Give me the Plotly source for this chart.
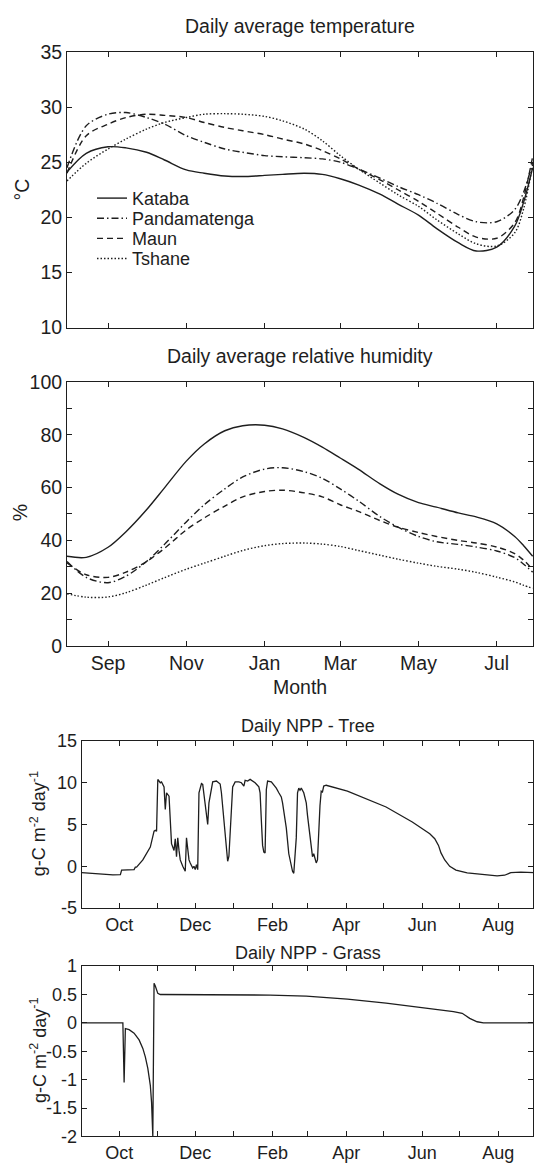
import plotly.graph_objects as go
import pandas as pd

# ---------------- data ----------------
clim_dates = ["2001-07-31", "2001-08-15", "2001-09-01", "2001-09-15", "2001-10-01", "2001-10-15",
              "2001-11-01", "2001-11-15", "2001-12-01", "2001-12-15", "2002-01-01", "2002-01-15",
              "2002-02-01", "2002-02-15", "2002-03-01", "2002-03-15", "2002-04-01", "2002-04-15",
              "2002-05-01", "2002-05-15", "2002-06-01", "2002-06-15", "2002-07-01", "2002-07-15",
              "2002-07-22", "2002-07-29"]
stations = ["Kataba", "Pandamatenga", "Maun", "Tshane"]

temp_kataba = [24.1, 25.8, 26.4, 26.3, 25.9, 25.2, 24.3, 24.0, 23.75, 23.7, 23.8, 23.9, 24.0, 23.9,
               23.5, 22.95, 22.1, 21.2, 20.2, 19.0, 17.7, 16.95, 17.3, 19.2, 21.4, 24.5]
temp_pandamatenga = [24.5, 28.3, 29.35, 29.5, 29.05, 28.45, 27.4, 26.8, 26.2, 25.9, 25.6, 25.5, 25.4,
                     25.3, 25.0, 24.4, 23.55, 22.8, 22.05, 21.3, 20.25, 19.6, 19.6, 20.7, 22.3, 25.0]
temp_maun = [24.0, 27.4, 28.45, 29.05, 29.35, 29.25, 29.05, 28.6, 28.15, 27.85, 27.5, 27.1, 26.65,
             26.05, 25.3, 24.4, 23.4, 22.5, 21.45, 20.4, 19.1, 18.2, 18.1, 19.5, 21.8, 25.5]
temp_tshane = [23.3, 24.9, 26.2, 27.1, 28.0, 28.6, 29.05, 29.35, 29.4, 29.35, 29.15, 28.75, 28.0,
               26.95, 25.6, 24.4, 23.1, 22.05, 21.0, 19.8, 18.5, 17.6, 17.4, 18.6, 20.8, 24.8]

hum_kataba = [34.0, 33.6, 37.4, 43.3, 51.6, 59.9, 70.0, 76.5, 81.5, 83.4, 83.6, 82.2, 78.9, 75.3,
              71.2, 67.0, 61.4, 57.5, 54.3, 52.6, 50.4, 48.9, 46.3, 41.5, 38.0, 34.0]
hum_pandamatenga = [32.0, 26.0, 24.0, 26.5, 32.0, 38.5, 47.0, 53.5, 59.5, 64.0, 67.0, 67.5, 66.0,
                    63.5, 59.5, 55.0, 49.0, 45.0, 41.5, 39.5, 38.5, 37.5, 36.0, 33.5, 31.0, 28.0]
hum_maun = [31.5, 27.0, 26.0, 28.0, 32.0, 37.0, 44.0, 48.5, 53.0, 56.5, 58.5, 59.0, 58.0, 56.5,
            53.5, 51.0, 47.5, 45.0, 43.0, 41.5, 40.0, 39.0, 37.5, 35.0, 32.5, 29.0]
hum_tshane = [19.8, 18.5, 18.6, 20.2, 23.1, 25.9, 29.1, 31.4, 34.0, 36.2, 38.0, 38.8, 39.0, 38.6,
              37.7, 36.2, 34.4, 32.9, 31.4, 30.2, 29.1, 27.9, 26.1, 24.3, 23.0, 21.9]

npp_start = "2001-09-01"
tree_day = [0, 12, 25, 31, 32, 42, 43, 44, 49, 55,
            57, 58, 59, 60, 61, 63, 64, 66, 67, 68,
            70, 71, 72, 74, 75, 76, 77, 78, 79, 81,
            82, 83, 84, 85, 86, 87, 89, 90, 91, 92,
            93, 94, 96, 97, 98, 100, 101, 102, 104, 105,
            108, 111, 112, 114, 116, 117, 118, 119, 120, 121,
            123, 126, 128, 130, 131, 133, 135, 139, 142, 143,
            144, 145, 146, 147, 148, 149, 152, 154, 156, 158,
            160, 161, 164, 166, 168, 169, 170, 172, 173, 174,
            175, 176, 178, 180, 181, 183, 185, 186, 187, 188,
            189, 190, 191, 192, 193, 194, 196, 213, 244, 265,
            275, 279, 283, 286, 288, 291, 295, 300, 309, 322,
            333, 339, 344, 352, 364]
tree_npp = [-0.76, -0.9, -1.03, -1.0, -0.45, -0.4, -0.1, -0.1, 0.76, 2.3,
            3.4, 4.2, 4.3, 4.2, 10.4, 10.0, 10.1, 9.5, 6.8, 8.8,
            8.4, 6.1, 2.7, 1.9, 3.3, 1.15, 3.4, 1.9, 0.76, 0.0,
            -0.4, -0.6, 3.4, 2.3, 0.76, 0.4, -0.2, 0.0, -0.4, 0.2,
            -0.4, 8.8, 9.9, 9.8, 8.4, 6.1, 5.0, 7.6, 9.5, 10.1,
            10.2, 9.85, 8.8, 5.7, 2.3, 0.6, 1.2, 4.2, 6.0, 9.5,
            10.1, 10.1, 10.0, 9.6, 10.3, 10.2, 10.4, 10.0, 9.5, 8.8,
            5.5, 2.5, 1.7, 1.6, 9.2, 10.2, 10.1, 9.7, 9.35, 8.8,
            8.3, 7.6, 4.6, 1.5, 0.0, -0.6, -0.84, 3.4, 8.8, 9.35,
            9.1, 9.35, 8.8, 7.6, 6.1, 3.4, 1.15, 1.5, 0.76, 0.4,
            0.76, 5.0, 7.25, 9.0, 8.9, 9.6, 9.7, 9.0, 7.1, 5.3,
            4.3, 3.9, 3.3, 2.5, 1.6, 0.76, 0.0, -0.45, -0.8, -1.03,
            -1.15, -1.07, -0.76, -0.7, -0.76]

grass_day = [0, 33, 34, 35, 38, 42, 46, 49, 51, 53, 55, 56, 57, 58, 59, 61, 63, 90, 151, 180,
             213, 244, 275, 298, 305, 311, 317, 322, 364]
grass_npp = [0, 0, -1.05, -0.1, -0.12, -0.18, -0.3, -0.45, -0.6, -0.8, -1.1, -1.4, -2.0, 0.7, 0.65,
             0.52, 0.5, 0.5, 0.49, 0.47, 0.42, 0.35, 0.27, 0.2, 0.17, 0.08, 0.02, 0.0, 0.0]

tree_ticks = [-5, 0, 5, 10, 15]
tree_ticktext = ["-5", "0", "5", "10", "15"]
grass_ticks = [-2, -1.5, -1, -0.5, 0, 0.5, 1]
grass_ticktext = ["-2", "-1.5", "-1", "-0.5", "0", "0.5", "1"]

# ---------------- figure ----------------
W, H = 534, 1167
FONT = "Liberation Sans, Arial, sans-serif"
INK = "#1e1e1e"
FS_TOP = 19.5   # text size of the two climate panels
FS_NPP = 18     # text size of the two NPP panels
FS_LEG = 18


def py(px):
    return 1 - px / H


line_styles = {
    "Kataba": "solid",
    "Pandamatenga": "7px,3px,1.5px,3px",
    "Maun": "6px,4px",
    "Tshane": "1.5px,2px",
}
temps = [temp_kataba, temp_pandamatenga, temp_maun, temp_tshane]
hums = [hum_kataba, hum_pandamatenga, hum_maun, hum_tshane]
legends = ["legend", "legend2", "legend3", "legend4"]

fig = go.Figure()
for name, t, h, lg in zip(stations, temps, hums, legends):
    ln = dict(color=INK, width=1.4, dash=line_styles[name], shape="spline", smoothing=0.9)
    fig.add_trace(go.Scatter(x=pd.to_datetime(clim_dates), y=t, mode="lines", name=name, line=ln,
                             xaxis="x", yaxis="y", legend=lg))
    fig.add_trace(go.Scatter(x=pd.to_datetime(clim_dates), y=h, mode="lines", name=name, line=ln,
                             xaxis="x2", yaxis="y2", showlegend=False))

t0 = pd.Timestamp(npp_start)
fig.add_trace(go.Scatter(x=[t0 + pd.Timedelta(days=d) for d in tree_day], y=tree_npp, mode="lines",
                         line=dict(color=INK, width=1.3), xaxis="x3", yaxis="y3", showlegend=False))
fig.add_trace(go.Scatter(x=[t0 + pd.Timedelta(days=d) for d in grass_day], y=grass_npp, mode="lines",
                         line=dict(color=INK, width=1.3), xaxis="x4", yaxis="y4", showlegend=False))


def axis_base(fs):
    return dict(showline=True, linecolor=INK, linewidth=1, mirror="ticks", ticks="inside", ticklen=5,
                tickcolor=INK, tickwidth=1, showgrid=False, zeroline=False,
                tickfont=dict(family=FONT, size=fs, color=INK))


top = axis_base(FS_TOP)
npp = axis_base(FS_NPP)

dom_clim = [67 / W, 533.3 / W]
dom_npp = [81.7 / W, 533.3 / W]
clim_range = ["2001-07-31", "2002-07-29 12:00"]
npp_range = ["2001-09-01", "2002-08-29"]

layout_axes = dict(
    xaxis=dict(top, domain=dom_clim, anchor="y", type="date", range=clim_range, dtick="M2",
               tick0="2001-09-01", showticklabels=False),
    yaxis=dict(top, domain=[py(322.7), py(41.7)], anchor="x", range=[10, 35], dtick=5),
    xaxis2=dict(top, domain=dom_clim, anchor="y2", type="date", range=clim_range, dtick="M2",
                tick0="2001-09-01", tickformat="%b"),
    yaxis2=dict(top, domain=[py(647.3), py(378)], anchor="x2", range=[0, 100], dtick=20,
                minor=dict(dtick=10, ticks="inside", ticklen=5, tickcolor=INK)),
    xaxis3=dict(npp, domain=dom_npp, anchor="y3", type="date", range=npp_range, dtick="M2",
                tick0="2001-10-01", tickformat="%b",
                minor=dict(dtick="M1", tick0="2001-09-01", ticks="inside", ticklen=5, tickcolor=INK)),
    yaxis3=dict(npp, domain=[py(914.3), py(744)], anchor="x3", range=[-5, 15],
                tickvals=tree_ticks, ticktext=tree_ticktext),
    xaxis4=dict(npp, domain=dom_npp, anchor="y4", type="date", range=npp_range, dtick="M2",
                tick0="2001-10-01", tickformat="%b",
                minor=dict(dtick="M1", tick0="2001-09-01", ticks="inside", ticklen=5, tickcolor=INK)),
    yaxis4=dict(npp, domain=[py(1147), py(973.5)], anchor="x4", range=[-2, 1],
                tickvals=grass_ticks, ticktext=grass_ticktext),
)

leg_y = [191, 211.5, 232, 252.5]
legend_layout = {}
for lg, yc in zip(legends, leg_y):
    legend_layout[lg] = dict(x=92 / W, xanchor="left", y=py(yc), yanchor="middle",
                             bgcolor="rgba(0,0,0,0)", borderwidth=0, itemwidth=30,
                             font=dict(family=FONT, size=FS_LEG, color=INK), tracegroupgap=0)


def ann(text, x, y, size, angle=0):
    return dict(text=text, x=x, y=y, xref="paper", yref="paper", xanchor="center", yanchor="middle",
                showarrow=False, textangle=angle, font=dict(family=FONT, size=size, color=INK))


cx_clim = (dom_clim[0] + dom_clim[1]) / 2
cx_npp = (dom_npp[0] + dom_npp[1]) / 2
annotations = [
    ann("Daily average temperature", cx_clim, py(15), FS_TOP),
    ann("Daily average relative humidity", cx_clim, py(352), FS_TOP),
    ann("Month", cx_clim, py(689), FS_TOP),
    ann("Daily NPP - Tree", cx_npp, py(729), FS_NPP),
    ann("Daily NPP - Grass", cx_npp, py(960), FS_NPP),
    ann("°C", 22 / W, py(182), FS_TOP, angle=-90),
    ann("%", 20 / W, py(512), FS_TOP, angle=-90),
    ann("g-C m<sup>-2</sup> day<sup>-1</sup>", 38 / W, py(829), FS_NPP, angle=-90),
    ann("g-C m<sup>-2</sup> day<sup>-1</sup>", 38 / W, py(1060), FS_NPP, angle=-90),
]

fig.update_layout(
    width=W, height=H, margin=dict(l=0, r=0, t=0, b=0),
    paper_bgcolor="white", plot_bgcolor="white",
    font=dict(family=FONT, size=FS_NPP, color=INK),
    annotations=annotations,
    **layout_axes,
    **legend_layout,
)

fig.write_html("out.html")
